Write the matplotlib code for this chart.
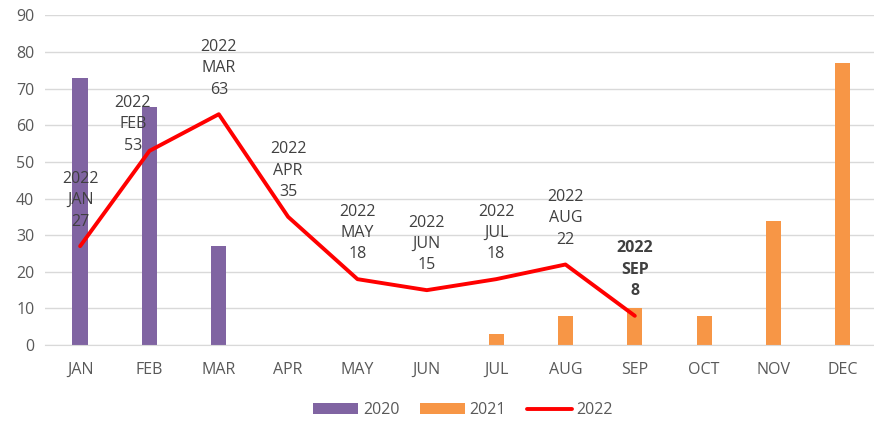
import numpy as np
import matplotlib
matplotlib.use("Agg")
import matplotlib.pyplot as plt

months = ["JAN", "FEB", "MAR", "APR", "MAY", "JUN", "JUL", "AUG", "SEP", "OCT", "NOV", "DEC"]
s2020 = [73, 65, 27, 0, 0, 0, 0, 0, 0, 0, 0, 0]
s2021 = [0, 0, 0, 0, 0, 0, 3, 8, 10, 8, 34, 77]
s2022 = [27, 53, 63, 35, 18, 15, 18, 22, 8]

plt.rcParams["font.family"] = ["Open Sans", "DejaVu Sans"]

fig = plt.figure(figsize=(8.74, 4.24), dpi=100)
ax = fig.add_axes([0.052, 0.186, 0.952, 0.778])

x = np.arange(len(months))
b1 = ax.bar(x, s2020, width=0.22, color="#8064a2", label="2020", zorder=2)
b2 = ax.bar(x, s2021, width=0.22, color="#f79646", label="2021", zorder=2)
l3, = ax.plot(x[:len(s2022)], s2022, color="#ff0000", lw=2.8, label="2022", zorder=3,
              solid_capstyle="round", solid_joinstyle="round")

# data labels
offsets = {0: (0, 12), 1: (-12, -2)}
for i, v in enumerate(s2022):
    dx, dy = offsets.get(i, (0, 12))
    bold = "bold" if i == len(s2022) - 1 else "normal"
    ax.annotate(f"2022\n{months[i]}\n{v}", (x[i], v), xytext=(dx, dy),
                textcoords="offset points", ha="center", va="bottom",
                fontsize=11.5, color="#404040", linespacing=1.45,
                fontweight=bold, zorder=4)

ax.set_xlim(-0.5, 11.5)
ax.set_ylim(0, 90)
ax.set_yticks(range(0, 91, 10))
ax.set_xticks(x)
ax.set_xticklabels(months)
ax.yaxis.grid(True, color="#d9d9d9", lw=1, zorder=0)
ax.set_axisbelow(True)
for side in ["top", "right", "left"]:
    ax.spines[side].set_visible(False)
ax.spines["bottom"].set_color("#d9d9d9")
ax.tick_params(length=0, colors="#595959", labelsize=11.5)
ax.tick_params(axis="x", pad=12)
ax.tick_params(axis="y", pad=8)

fig.legend([b1, b2, l3], ["2020", "2021", "2022"], loc="lower center",
           bbox_to_anchor=(0.53, -0.02), ncol=3, frameon=False,
           fontsize=11.5, labelcolor="#595959", handlelength=2.8, handleheight=0.7,
           columnspacing=1.3, handletextpad=0.3)

fig.savefig("out.png", dpi=100)
